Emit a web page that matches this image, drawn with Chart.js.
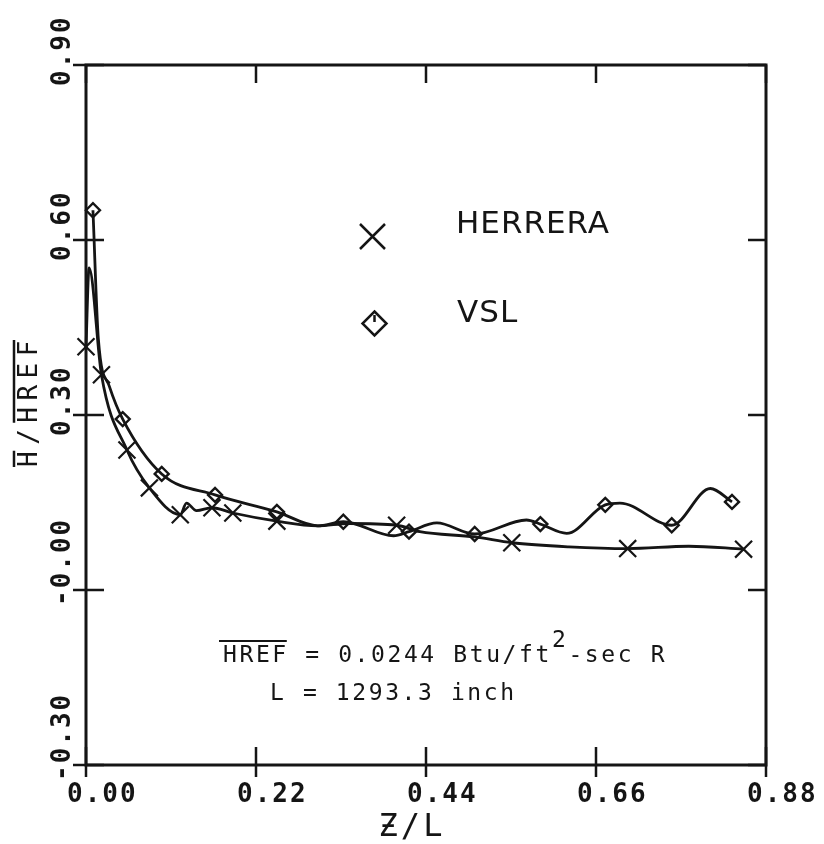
<!DOCTYPE html>
<html>
<head>
<meta charset="utf-8">
<script src="https://cdn.jsdelivr.net/npm/chart.js@4.4.1/dist/chart.umd.min.js"></script>
<style>
  html, body { margin: 0; padding: 0; background: #fff; }
  canvas { display: block; }
</style>
</head>
<body>
<canvas id="heatChart" width="824" height="844"></canvas>
<script>
// HERRERA curve, Z/L against H/HREF; mark = 1 where a symbol is plotted
var herreraZ = [0.000, 0.004, 0.020, 0.053, 0.082, 0.122, 0.130, 0.143, 0.163, 0.190, 0.247, 0.300, 0.340, 0.402, 0.432, 0.503, 0.551, 0.625, 0.701, 0.780, 0.851];
var herreraH = [0.417, 0.552, 0.369, 0.240, 0.175, 0.129, 0.149, 0.136, 0.141, 0.132, 0.118, 0.110, 0.114, 0.111, 0.100, 0.091, 0.081, 0.074, 0.071, 0.075, 0.070];
var herreraMark = [1, 0, 1, 1, 1, 1, 0, 0, 1, 1, 1, 0, 0, 1, 0, 0, 1, 0, 1, 0, 1];

// VSL curve
var vslZ = [0.009, 0.016, 0.030, 0.0475, 0.098, 0.167, 0.247, 0.300, 0.333, 0.398, 0.418, 0.454, 0.503, 0.570, 0.588, 0.622, 0.672, 0.691, 0.758, 0.808, 0.836];
var vslH = [0.651, 0.430, 0.350, 0.293, 0.199, 0.163, 0.134, 0.110, 0.117, 0.093, 0.100, 0.115, 0.096, 0.120, 0.113, 0.097, 0.146, 0.149, 0.111, 0.174, 0.151];
var vslMark = [1, 0, 0, 1, 1, 1, 1, 0, 1, 0, 1, 0, 1, 0, 1, 0, 1, 0, 1, 0, 1];

var xTickLabels = ['0.00', '0.22', '0.44', '0.66', '0.88'];
var yTickLabels = ['-0.30', '-0.00', '0.30', '0.60', '0.90'];

var INK = '#151515';
var MONO = '"DejaVu Sans Mono", "Liberation Mono", monospace';
var SANS = '"DejaVu Sans", "Liberation Sans", sans-serif';

function toPoints(zs, hs) {
  return zs.map(function (z, i) { return { x: z, y: hs[i] }; });
}

function spaced(ctx, px) {
  if ('letterSpacing' in ctx) ctx.letterSpacing = px + 'px';
}

// frame, ticks crossing the axes, labels, key and note
var plotFrame = {
  id: 'plotFrame',
  afterDraw: function (chart) {
    var ctx = chart.ctx, a = chart.chartArea;
    var xs = chart.scales.x, ys = chart.scales.y;

    ctx.save();
    ctx.strokeStyle = INK;
    ctx.fillStyle = INK;
    ctx.lineWidth = 3;
    ctx.strokeRect(a.left, a.top, a.right - a.left, a.bottom - a.top);

    ctx.lineWidth = 2.5;
    ctx.beginPath();
    xs.ticks.forEach(function (t) {
      var px = xs.getPixelForValue(t.value);
      ctx.moveTo(px, a.bottom + 12);
      ctx.lineTo(px, a.bottom - 18);
      ctx.moveTo(px, a.top);
      ctx.lineTo(px, a.top + 18);
    });
    ys.ticks.forEach(function (t) {
      var py = ys.getPixelForValue(t.value);
      ctx.moveTo(a.left - 13, py);
      ctx.lineTo(a.left + 18, py);
      ctx.moveTo(a.right, py);
      ctx.lineTo(a.right - 18, py);
    });
    ctx.stroke();

    // tick labels
    ctx.font = 'bold 26px ' + MONO;
    spaced(ctx, 2);
    ctx.textAlign = 'left';
    ctx.textBaseline = 'alphabetic';
    xs.ticks.forEach(function (t, i) {
      var px = xs.getPixelForValue(t.value);
      ctx.fillText(xTickLabels[i], px - 19, a.bottom + 37);
    });
    ys.ticks.forEach(function (t, i) {
      var py = ys.getPixelForValue(t.value);
      var lab = yTickLabels[i];
      ctx.save();
      ctx.translate(a.left - 16, py + (lab.charAt(0) === '-' ? 16 : 21));
      ctx.rotate(-Math.PI / 2);
      ctx.fillText(lab, 0, 0);
      ctx.restore();
    });

    // axis titles
    ctx.font = '32px ' + MONO;
    spaced(ctx, 3);
    ctx.textAlign = 'center';
    ctx.fillText('\u01B5/L', 412, 836);

    ctx.save();
    ctx.translate(37, 467);
    ctx.rotate(-Math.PI / 2);
    ctx.font = '26px ' + MONO;
    spaced(ctx, 6.5);
    ctx.textAlign = 'left';
    var wH = ctx.measureText('H').width;
    var wHS = ctx.measureText('H/').width;
    var wRef = ctx.measureText('HREF').width;
    ctx.fillText('H/HREF', 0, 0);
    ctx.lineWidth = 2.5;
    ctx.beginPath();
    ctx.moveTo(0, -23); ctx.lineTo(wH - 6, -23);
    ctx.moveTo(wHS, -23); ctx.lineTo(wHS + wRef - 6, -23);
    ctx.stroke();
    ctx.restore();

    // key
    ctx.lineWidth = 2.5;
    ctx.beginPath();
    ctx.moveTo(360, 224); ctx.lineTo(385, 249);
    ctx.moveTo(385, 224); ctx.lineTo(360, 249);
    ctx.moveTo(374.5, 311.5); ctx.lineTo(386.5, 323.5);
    ctx.lineTo(374.5, 335.5); ctx.lineTo(362.5, 323.5);
    ctx.closePath();
    ctx.moveTo(374.5, 315); ctx.lineTo(374.5, 322);
    ctx.stroke();

    ctx.font = '31px ' + SANS;
    spaced(ctx, 1);
    ctx.textAlign = 'left';
    ctx.fillText(chart.data.datasets[0].label, 456, 233);
    ctx.fillText(chart.data.datasets[1].label, 457, 322);

    // reference values
    ctx.font = '23px ' + MONO;
    spaced(ctx, 2.6);
    var x0 = 223, y0 = 662;
    var part1 = 'HREF = 0.0244 Btu/ft';
    ctx.fillText(part1, x0, y0);
    var w1 = ctx.measureText(part1).width;
    ctx.fillText('2', x0 + w1, y0 - 15);
    var w2 = ctx.measureText('2').width;
    ctx.fillText('-sec R', x0 + w1 + w2, y0);
    ctx.lineWidth = 2;
    ctx.beginPath();
    ctx.moveTo(x0 - 4, y0 - 21);
    ctx.lineTo(x0 + ctx.measureText('HREF').width - 2, y0 - 21);
    ctx.stroke();
    ctx.fillText('L = 1293.3 inch', 270, 700);

    ctx.restore();
  }
};

new Chart(document.getElementById('heatChart'), {
  type: 'scatter',
  data: {
    datasets: [{
      label: 'HERRERA',
      data: toPoints(herreraZ, herreraH),
      showLine: true,
      cubicInterpolationMode: 'monotone',
      borderColor: INK,
      borderWidth: 2.8,
      pointStyle: 'crossRot',
      pointRadius: herreraMark.map(function (m) { return m ? 12 : 0; }),
      pointBorderWidth: 2.2,
      pointBorderColor: INK,
      pointBackgroundColor: 'rgba(0,0,0,0)',
      clip: false
    }, {
      label: 'VSL',
      data: toPoints(vslZ, vslH),
      showLine: true,
      cubicInterpolationMode: 'monotone',
      borderColor: INK,
      borderWidth: 2.8,
      pointStyle: 'rectRot',
      pointRadius: vslMark.map(function (m) { return m ? 7 : 0; }),
      pointBorderWidth: 2.4,
      pointBorderColor: INK,
      pointBackgroundColor: 'rgba(0,0,0,0)',
      clip: false
    }]
  },
  options: {
    responsive: false,
    animation: false,
    devicePixelRatio: 1,
    events: [],
    layout: { padding: { left: 86, top: 65, right: 58, bottom: 79 } },
    scales: {
      x: { type: 'linear', display: false, min: 0, max: 0.88, ticks: { stepSize: 0.22 } },
      y: { type: 'linear', display: false, min: -0.3, max: 0.9, ticks: { stepSize: 0.3 } }
    },
    plugins: {
      legend: { display: false },
      tooltip: { enabled: false }
    }
  },
  plugins: [plotFrame]
});
</script>
</body>
</html>
